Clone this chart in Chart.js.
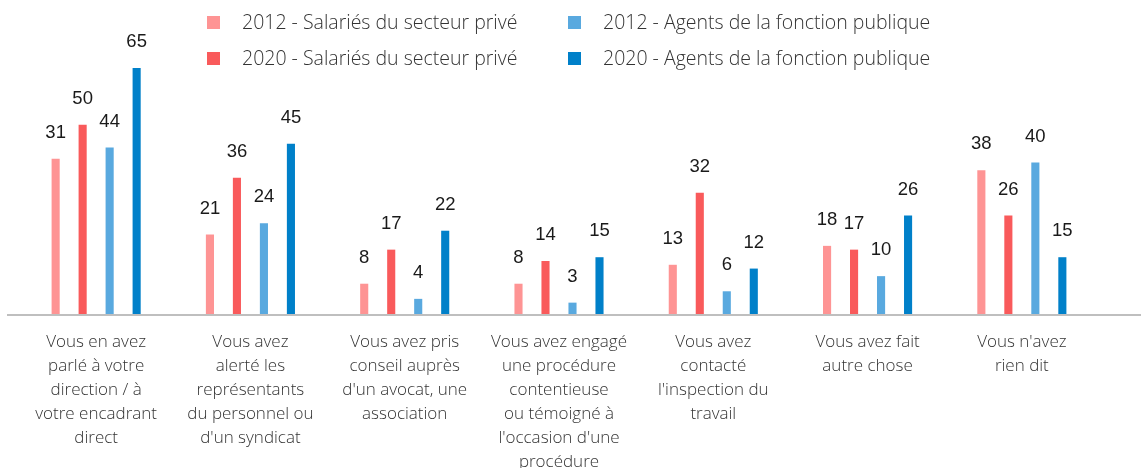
<!DOCTYPE html>
<html>
<head>
<meta charset="utf-8">
<script src="https://cdn.jsdelivr.net/npm/chart.js@4/dist/chart.umd.min.js"></script>
<style>
  html, body { margin: 0; padding: 0; background: #fff; overflow: hidden; }
  #wrap { position: relative; width: 1141px; height: 468px; }
  #legend { position: absolute; left: 0; top: 0; font-family: "Open Sans", sans-serif; font-weight: 300; font-size: 19.5px; color: #333; }
  .item { position: absolute; white-space: nowrap; line-height: 22px; }
  .item i { position: absolute; left: -35px; top: 5px; width: 13px; height: 13px; }
</style>
</head>
<body>
<div id="wrap">
  <canvas id="myChart" width="1141" height="468"></canvas>
  <div id="legend"></div>
</div>
<script>
// categories (x axis, one array per line of text)
const categories = [
  ['Vous en avez', 'parlé à votre', 'direction / à', 'votre encadrant', 'direct'],
  ['Vous avez', 'alerté les', 'représentants', 'du personnel ou', "d'un syndicat"],
  ['Vous avez pris', 'conseil auprès', "d'un avocat, une", 'association'],
  ['Vous avez engagé', 'une procédure', 'contentieuse', 'ou témoigné à', "l'occasion d'une", 'procédure'],
  ['Vous avez', 'contacté', "l'inspection du", 'travail'],
  ['Vous avez fait', 'autre chose'],
  ["Vous n'avez", 'rien dit']
];

const seriesNames = [
  '2012 - Salariés du secteur privé',
  '2020 - Salariés du secteur privé',
  '2012 - Agents de la fonction publique',
  '2020 - Agents de la fonction publique'
];
// bar heights as drawn in the picture (first bar is drawn at ~41 although labelled 31)
const prive2012 = [41, 21, 8, 8, 13, 18, 38];
const prive2020 = [50, 36, 17, 14, 32, 17, 26];
const public2012 = [44, 24, 4, 3, 6, 10, 40];
const public2020 = [65, 45, 22, 15, 12, 26, 15];
// printed labels
const prive2012Labels = [31, 21, 8, 8, 13, 18, 38];
const colors = ['#fe9494', '#f95a5b', '#59a9df', '#0080c9'];

// legend (2 columns, filled column by column)
const legendPos = [[242, 11], [242, 47], [603, 11], [603, 47]];
const legend = document.getElementById('legend');
seriesNames.forEach((name, i) => {
  const d = document.createElement('div');
  d.className = 'item';
  d.style.left = legendPos[i][0] + 'px';
  d.style.top = legendPos[i][1] + 'px';
  d.innerHTML = `<i style="background:${colors[i]}"></i>${name}`;
  legend.appendChild(d);
});

// value labels above bars
const valueLabels = {
  id: 'valueLabels',
  afterDatasetsDraw(chart) {
    const ctx = chart.ctx;
    ctx.save();
    ctx.font = '18.5px "Liberation Sans", Arial, sans-serif';
    ctx.fillStyle = '#1a1a1a';
    ctx.textAlign = 'center';
    ctx.textBaseline = 'middle';
    chart.data.datasets.forEach((ds, i) => {
      const texts = ds.labels || ds.data;
      chart.getDatasetMeta(i).data.forEach((bar, j) => {
        ctx.fillText(texts[j], bar.x, bar.y - 26);
      });
    });
    ctx.restore();
  }
};

// baseline across the whole width
const baseLine = {
  id: 'baseLine',
  beforeDatasetsDraw(chart) {
    const ctx = chart.ctx;
    const y = chart.scales.y.getPixelForValue(0);
    ctx.save();
    ctx.strokeStyle = '#bfbfbf';
    ctx.lineWidth = 2;
    ctx.beginPath();
    ctx.moveTo(7, y + 1);
    ctx.lineTo(chart.width, y + 1);
    ctx.stroke();
    ctx.restore();
  }
};

const data = [prive2012, prive2020, public2012, public2020];
const ctx = document.getElementById('myChart').getContext('2d');
const chart = new Chart(ctx, {
  type: 'bar',
  data: {
    labels: categories,
    datasets: data.map((d, i) => ({
      label: seriesNames[i],
      data: d,
      labels: i === 0 ? prive2012Labels : null,
      backgroundColor: colors[i],
      categoryPercentage: 0.7,
      barPercentage: 0.3
    }))
  },
  options: {
    responsive: false,
    animation: false,
    layout: { padding: { top: 49, left: 19, right: 42, bottom: 0 } },
    plugins: { legend: { display: false }, tooltip: { enabled: false } },
    scales: {
      y: { display: false, min: 0, max: 70 },
      x: {
        grid: { display: false, drawTicks: false },
        border: { display: false },
        ticks: {
          maxRotation: 0,
          autoSkip: false,
          padding: 16,
          color: '#333',
          font: { family: 'Open Sans', weight: 300, size: 17, lineHeight: 24 / 17 }
        },
        afterFit(scale) { scale.height = 468 - 314; }
      }
    }
  },
  plugins: [valueLabels, baseLine]
});
</script>
</body>
</html>
